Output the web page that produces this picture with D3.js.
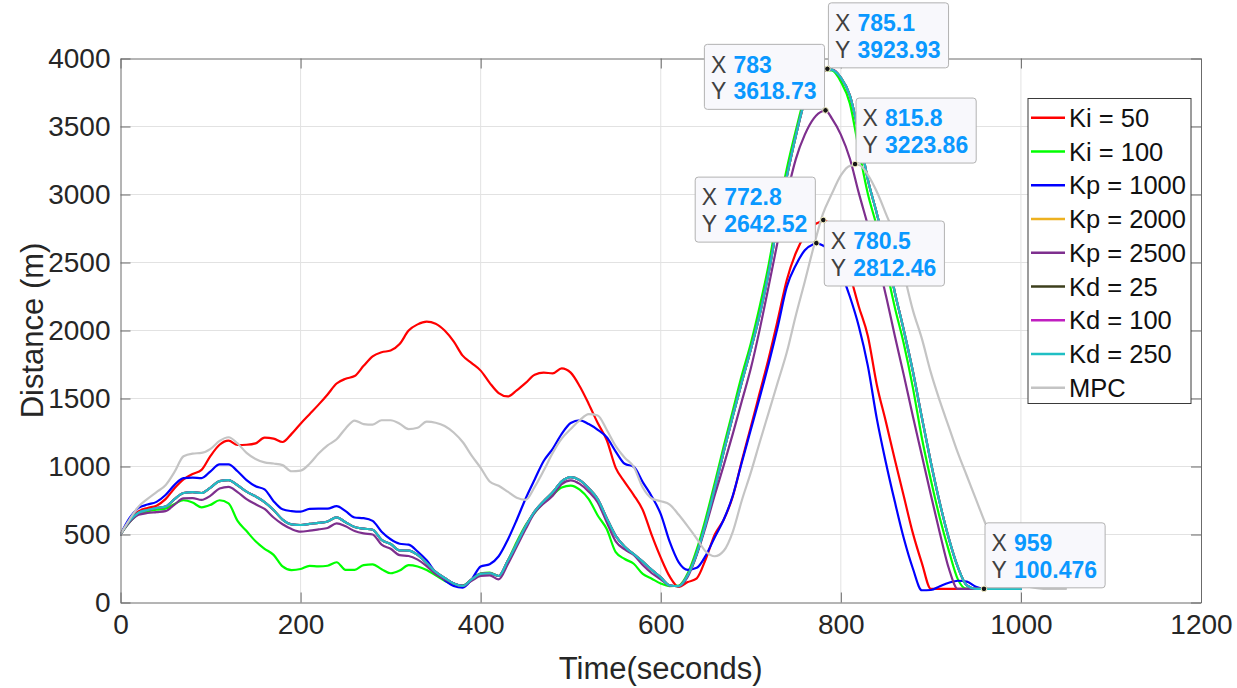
<!DOCTYPE html>
<html>
<head>
<meta charset="utf-8">
<script src="https://cdn.jsdelivr.net/npm/d3@7"></script>
<style>
  body { margin: 0; background: #ffffff; }
  svg { display: block; }
  text { font-family: "Liberation Sans", Arial, Helvetica, sans-serif; }
</style>
</head>
<body>
<svg id="chart" width="1237" height="688"></svg>
<script>
// Sample times (seconds) shared by every controller run
const time = [0,10,20,30,40,50,60,70,80,90,100,110,120,130,140,150,160,170,180,190,200,
  210,220,230,240,250,260,270,280,290,300,310,320,330,340,350,360,370,380,390,400,
  410,420,430,440,450,460,470,480,490,500,510,520,530,540,550,560,570,580,590,600,
  610,620,630,640,650,660,670,680,690,700,710,720,730,740,750,760,770,780,790,800,
  810,820,830,840,850,860,870,880,890,900,910,920,930,940,950,960,970,980,990,1000,
  1010,1020,1030,1040,1050];

// Distance (m) for each run, one value per sample time
const ki50 = [500,600,670,695,712,760,840,905,945,975,1078,1160,1190,1158,1160,1170,1212,1205,1180,1240,1315,
  1385,1455,1530,1610,1645,1665,1740,1810,1840,1853,1900,2000,2045,2065,2050,2000,1920,1815,1760,1705,
  1615,1540,1515,1560,1615,1675,1690,1685,1722,1690,1590,1460,1320,1195,990,885,790,680,495,330,
  190,115,150,178,320,500,610,780,1040,1290,1545,1800,2080,2371,2570,2700,2776,2810,2760,2600,
  2410,2175,1960,1600,1330,1050,780,510,290,100,100,100,100,100,100,100,100,100,100,100];

const ki100 = [500,590,650,670,682,690,725,752,735,700,718,752,729,600,525,450,395,350,265,238,246,
  270,265,270,296,240,240,275,280,245,215,235,275,265,239,200,160,130,125,170,215,
  220,195,305,445,570,660,735,790,845,860,830,760,640,540,370,320,285,210,175,140,
  121,125,215,390,620,880,1150,1410,1670,1905,2180,2490,2860,3190,3470,3720,3850,3915,3912,3830,
  3670,3330,3005,2763,2470,2170,1900,1580,1210,900,620,380,170,100,100,100,100,100,100,100];

const kp1000 = [500,620,695,720,740,790,865,915,918,915,965,1015,1015,965,900,855,832,745,685,672,668,
  688,690,690,709,672,625,620,600,520,465,432,425,375,310,222,165,122,110,170,265,
  282,340,460,607,765,905,1040,1130,1240,1320,1340,1312,1270,1215,1110,1020,998,885,780,650,
  445,295,240,255,345,480,610,785,1030,1270,1510,1760,2030,2322,2480,2590,2636,2625,2580,2430,
  2250,2030,1740,1350,1030,740,470,250,90,92,120,145,160,153,115,100,100,100,100,100];

const kp2000 = [500,600,660,680,695,705,760,805,812,805,845,892,900,862,815,780,738,680,610,575,570,
  578,585,596,626,590,555,543,535,460,430,383,382,350,290,225,180,140,122,170,210,
  215,195,305,430,560,670,745,810,890,922,900,840,760,620,490,410,355,300,240,185,
  125,120,200,360,580,840,1110,1370,1620,1860,2120,2430,2800,3130,3430,3690,3840,3910,3918,3860,
  3730,3450,3110,2860,2590,2280,2000,1700,1360,1030,730,470,260,125,100,100,100,100,100,100];

const kp2500 = [500,590,645,658,665,672,720,765,768,755,786,838,850,812,760,722,688,625,575,540,521,
  528,538,548,582,560,525,508,500,425,395,348,342,315,268,208,170,140,122,160,195,
  200,170,280,410,540,660,728,785,870,898,872,815,735,590,450,390,349,275,215,170,
  125,120,190,350,560,790,1010,1240,1480,1720,2010,2330,2660,2990,3260,3440,3560,3614,3560,3440,
  3265,3010,2775,2525,2260,1960,1670,1370,1080,790,510,250,100,100,100,100,100,100,100,100];

const kd25 = [500,600,660,680,695,705,760,805,812,805,845,892,900,862,815,780,738,680,610,575,570,
  578,585,596,626,590,555,543,535,460,430,383,382,350,290,225,180,140,122,170,210,
  215,195,305,430,560,670,745,810,890,922,900,840,760,620,490,410,355,300,240,185,
  125,120,200,360,580,840,1110,1370,1620,1860,2120,2430,2800,3130,3430,3690,3840,3910,3918,3860,
  3730,3450,3110,2860,2590,2280,2000,1700,1360,1030,730,470,260,125,100,100,100,100,100,100];

const kd100 = [500,600,660,680,695,705,760,805,812,805,845,892,900,862,815,780,738,680,610,575,570,
  578,585,596,626,590,555,543,535,460,430,383,382,350,290,225,180,140,122,170,210,
  215,195,305,430,560,670,745,810,890,922,900,840,760,620,490,410,355,300,240,185,
  125,120,200,360,580,840,1110,1370,1620,1860,2120,2430,2800,3130,3430,3690,3840,3910,3918,3860,
  3730,3450,3110,2860,2590,2280,2000,1700,1360,1030,730,470,260,125,100,100,100,100,100,100];

const kd250 = [500,600,660,680,695,705,760,805,812,805,845,892,900,862,815,780,738,680,610,575,570,
  578,585,596,626,590,555,543,535,460,430,383,382,350,290,225,180,140,122,170,210,
  215,195,305,430,560,670,745,810,890,922,900,840,760,620,490,410,355,300,240,185,
  125,120,200,360,580,840,1110,1370,1620,1860,2120,2430,2800,3130,3430,3690,3840,3910,3918,3860,
  3730,3450,3110,2860,2590,2280,2000,1700,1360,1030,730,470,260,125,100,100,100,100,100,100];

const mpc = [500,610,705,762,812,862,960,1075,1095,1100,1130,1188,1215,1170,1100,1055,1030,1022,1010,965,970,
  1020,1095,1155,1200,1280,1338,1312,1308,1340,1340,1315,1275,1285,1330,1322,1298,1250,1180,1080,990,
  890,858,815,770,755,850,970,1100,1205,1275,1340,1385,1375,1270,1150,1065,998,845,765,745,
  720,645,560,470,375,340,380,520,750,955,1180,1400,1620,1840,2110,2360,2620,2855,3005,3140,
  3211,3217,3145,3020,2860,2690,2420,2150,1940,1690,1480,1290,1100,930,760,590,430,290,190,140,
  115,104,100,100,100,100];

const seriesNames  = ["Ki = 50", "Ki = 100", "Kp = 1000", "Kp = 2000", "Kp = 2500", "Kd = 25", "Kd = 100", "Kd = 250", "MPC"];
const seriesValues = [ki50, ki100, kp1000, kp2000, kp2500, kd25, kd100, kd250, mpc];
const seriesColors = ["#ff0000", "#00ff00", "#0000ff", "#edb120", "#7e2f8e", "#3d3f1c", "#c01ec0", "#20bfc4", "#c4c4c4"];

const xTicks = [0, 200, 400, 600, 800, 1000, 1200];
const yTicks = [0, 500, 1000, 1500, 2000, 2500, 3000, 3500, 4000];

// Data tips: the point (x, y) on a run, with the side its box opens to
const tipX      = [785.1, 783, 815.8, 772.8, 780.5, 959];
const tipY      = [3923.93, 3618.73, 3223.86, 2642.52, 2812.46, 100.476];
const tipSeries = ["Kd = 250", "Kp = 2500", "MPC", "Kp = 1000", "Ki = 50", "Kp = 1000"];
const tipSide   = ["ne", "nw", "ne", "nw", "se", "ne"];

// ---- layout ----
const svg = d3.select("#chart");
const x = d3.scaleLinear().domain([0, 1200]).range([120.5, 1201]);
const y = d3.scaleLinear().domain([0, 4000]).range([602.5, 58.5]);
const axisColor = "#6b6b6b";
const textColor = "#262626";

// grid
const grid = svg.append("g").attr("stroke", "#e2e2e2").attr("stroke-width", 1);
grid.selectAll("line.gx").data(xTicks.slice(1, -1)).join("line")
  .attr("x1", d => x(d)).attr("x2", d => x(d)).attr("y1", y(0)).attr("y2", y(4000));
grid.selectAll("line.gy").data(yTicks.slice(1, -1)).join("line")
  .attr("y1", d => y(d)).attr("y2", d => y(d)).attr("x1", x(0)).attr("x2", x(1200));

// clip for the plotted runs
svg.append("clipPath").attr("id", "plotClip").append("rect")
  .attr("x", x(0)).attr("y", y(4000)).attr("width", x(1200) - x(0)).attr("height", y(0) - y(4000));

// build each run's points; a data tip sitting on a run is one of its points
const runs = seriesNames.map((name, k) => {
  const pts = seriesValues[k].map((v, i) => [time[i], v]);
  tipSeries.forEach((s, j) => { if (s === name) pts.push([tipX[j], tipY[j]]); });
  pts.sort((a, b) => a[0] - b[0]);
  return { name, color: seriesColors[k], pts };
});

const line = d3.line().x(d => x(d[0])).y(d => y(d[1])).curve(d3.curveMonotoneX);
svg.append("g").attr("clip-path", "url(#plotClip)")
  .selectAll("path").data(runs).join("path")
  .attr("d", d => line(d.pts))
  .attr("fill", "none")
  .attr("stroke", d => d.color)
  .attr("stroke-width", 2.2)
  .attr("stroke-linejoin", "round")
  .attr("stroke-linecap", "round");

// axes: ticks point inwards on all four sides
function styleAxis(g, fontSize) {
  g.attr("font-family", null).attr("font-size", null);
  g.select(".domain").attr("stroke", axisColor).attr("stroke-width", 1);
  g.selectAll(".tick line").attr("stroke", axisColor).attr("stroke-width", 1);
  g.selectAll(".tick text").attr("fill", textColor).style("font-size", fontSize + "px");
}
const fmt = d3.format("d");
svg.append("g").attr("transform", `translate(0,${y(0)})`)
  .call(d3.axisBottom(x).tickValues(xTicks).tickFormat(fmt).tickSizeInner(-10).tickSizeOuter(0).tickPadding(12))
  .call(g => styleAxis(g, 28));
svg.append("g").attr("transform", `translate(${x(0)},0)`)
  .call(d3.axisLeft(y).tickValues(yTicks).tickFormat(fmt).tickSizeInner(-10).tickSizeOuter(0).tickPadding(10))
  .call(g => styleAxis(g, 28));
svg.append("g").attr("transform", `translate(0,${y(4000)})`)
  .call(d3.axisTop(x).tickValues(xTicks).tickFormat("").tickSizeInner(-10).tickSizeOuter(0))
  .call(g => styleAxis(g, 28));
svg.append("g").attr("transform", `translate(${x(1200)},0)`)
  .call(d3.axisRight(y).tickValues(yTicks).tickFormat("").tickSizeInner(-10).tickSizeOuter(0))
  .call(g => styleAxis(g, 28));

// axis titles
svg.append("text")
  .attr("x", (x(0) + x(1200)) / 2).attr("y", 679)
  .attr("text-anchor", "middle").attr("fill", textColor)
  .style("font-size", "31px").text("Time(seconds)");
svg.append("text")
  .attr("transform", `translate(43,${(y(0) + y(4000)) / 2}) rotate(-90)`)
  .attr("text-anchor", "middle").attr("fill", textColor)
  .style("font-size", "31px").text("Distance (m)");

// legend
const legend = svg.append("g");
legend.append("rect")
  .attr("x", 1028).attr("y", 98.5).attr("width", 163).attr("height", 305)
  .attr("fill", "#ffffff").attr("stroke", "#3a3a3a").attr("stroke-width", 1);
const rows = legend.selectAll("g.row").data(runs).join("g")
  .attr("transform", (d, i) => `translate(0,${117.7 + i * 33.75})`);
rows.append("line")
  .attr("x1", 1031).attr("x2", 1065).attr("y1", 0).attr("y2", 0)
  .attr("stroke", d => d.color).attr("stroke-width", 2.6);
rows.append("text")
  .attr("x", 1069).attr("y", 0).attr("dy", "0.36em")
  .attr("fill", "#111111").style("font-size", "25.5px")
  .text(d => d.name);

// data tips
const tipLayer = svg.append("g");
tipX.forEach((tx, j) => {
  const px = x(tx), py = y(tipY[j]);
  const g = tipLayer.append("g");
  const box = g.append("rect").attr("rx", 3).attr("ry", 3)
    .attr("fill", "#f8f8fc").attr("stroke", "#b2b2b2").attr("stroke-width", 1);
  const labels = [["X", String(tx)], ["Y", String(tipY[j])]];
  const texts = labels.map((lv, r) => {
    const t = g.append("text").style("font-size", "23px");
    t.append("tspan").attr("fill", "#404040").text(lv[0]);
    return t;
  });
  const vals = labels.map((lv, r) =>
    g.append("text").style("font-size", "23px").style("font-weight", "bold")
      .attr("fill", "#0a98ff").text(lv[1]));
  const valW = d3.max(vals, v => v.node().getComputedTextLength());
  const bw = 29 + valW + 8, bh = 65;
  const side = tipSide[j];
  const bx = side.includes("e") ? px + 1 : px - 1 - bw;
  const by = side.includes("n") ? py - 1 - bh : py + 1;
  box.attr("x", bx).attr("y", by).attr("width", bw).attr("height", bh);
  texts.forEach((t, r) => t.attr("x", bx + 6.5).attr("y", by + 20 + r * 26.6).attr("dy", "0.36em"));
  vals.forEach((v, r) => v.attr("x", bx + 29).attr("y", by + 20 + r * 26.6).attr("dy", "0.36em"));
  tipLayer.append("circle").attr("cx", px).attr("cy", py).attr("r", 2.8)
    .attr("fill", "#151515").attr("stroke", "#f3efc4").attr("stroke-width", 1);
});
</script>
</body>
</html>
